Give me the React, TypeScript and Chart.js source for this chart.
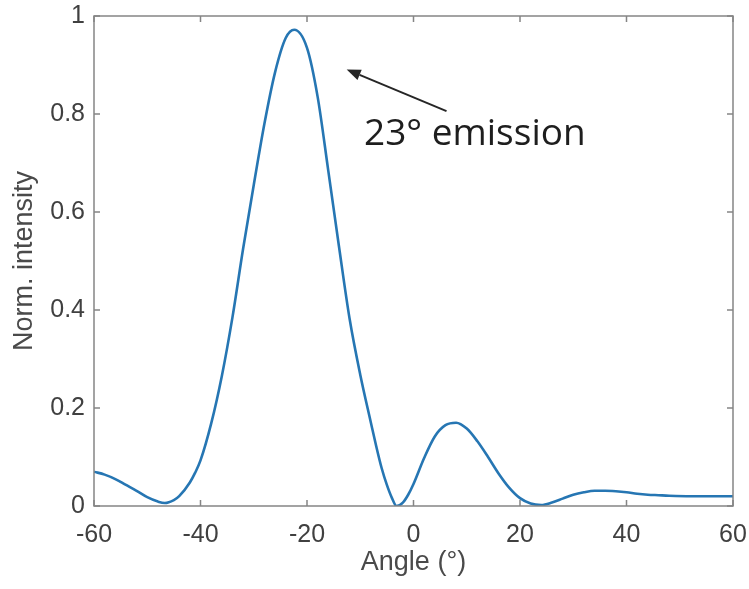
import React, { useEffect, useRef } from "react";
import { Chart, registerables } from "chart.js";

Chart.register(...registerables);

// Normalized far-field intensity versus emission angle
const angles = [
  -60, -58, -56, -54, -52, -50, -48, -46.7, -45, -44, -42, -41, -40, -38, -36, -34, -32, -30, -28,
  -26, -24, -22.4, -20, -18, -16, -14, -12, -10, -8, -7, -6, -5, -4, -3.2, -2, -1, 0, 2, 4, 6, 8,
  10, 12, 14, 16, 18, 20, 22, 24, 26, 28, 30, 32, 34, 36, 38, 40, 42, 44, 46, 48, 52, 56, 60,
];
const intensity = [
  0.07, 0.064, 0.055, 0.043, 0.031, 0.018, 0.009, 0.006, 0.012, 0.02, 0.048, 0.068, 0.093, 0.168,
  0.265, 0.385, 0.525, 0.655, 0.78, 0.885, 0.955, 0.972, 0.935, 0.835, 0.684, 0.53, 0.382, 0.268,
  0.17, 0.122, 0.078, 0.043, 0.015, 0.0, 0.007, 0.023, 0.045, 0.098, 0.142, 0.165, 0.17, 0.158,
  0.132, 0.1, 0.066, 0.037, 0.016, 0.005, 0.002, 0.007, 0.015, 0.023, 0.028, 0.031, 0.031, 0.03,
  0.028, 0.025, 0.023, 0.022, 0.021, 0.02, 0.02, 0.02,
];

const xTicks = [-60, -40, -20, 0, 20, 40, 60];
const yTicks = [0, 0.2, 0.4, 0.6, 0.8, 1];

// Annotation: arrow pointing at the main lobe, with its caption
const arrowHead = { x: -12.55, y: 0.891 };
const arrowTail = { x: 6.2, y: 0.806 };
const captionAt = { x: -9.3, y: 0.737 };
const captionText = "23° emission";

const AXIS_COLOR = "#858585";
const TEXT_COLOR = "#404040";
const LINE_COLOR = "#2676b3";

const boxAndTicks = {
  id: "boxAndTicks",
  afterDatasetsDraw(chart: any) {
    const { ctx, chartArea: a, scales } = chart;
    const xs = scales.x;
    const ys = scales.y;
    const len = 6;
    ctx.save();
    ctx.strokeStyle = AXIS_COLOR;
    ctx.lineWidth = 1.5;
    ctx.strokeRect(a.left, a.top, a.right - a.left, a.bottom - a.top);
    ctx.beginPath();
    for (const v of xTicks) {
      const px = xs.getPixelForValue(v);
      ctx.moveTo(px, a.bottom);
      ctx.lineTo(px, a.bottom - len);
      ctx.moveTo(px, a.top);
      ctx.lineTo(px, a.top + len);
    }
    for (const v of yTicks) {
      const py = ys.getPixelForValue(v);
      ctx.moveTo(a.left, py);
      ctx.lineTo(a.left + len, py);
      ctx.moveTo(a.right, py);
      ctx.lineTo(a.right - len, py);
    }
    ctx.stroke();

    // arrow
    const hx = xs.getPixelForValue(arrowHead.x);
    const hy = ys.getPixelForValue(arrowHead.y);
    const tx = xs.getPixelForValue(arrowTail.x);
    const ty = ys.getPixelForValue(arrowTail.y);
    const ang = Math.atan2(hy - ty, hx - tx);
    const headLen = 14;
    const headHalf = 5.5;
    const bx = hx - headLen * Math.cos(ang);
    const by = hy - headLen * Math.sin(ang);
    ctx.strokeStyle = "#262626";
    ctx.fillStyle = "#262626";
    ctx.lineWidth = 2;
    ctx.beginPath();
    ctx.moveTo(tx, ty);
    ctx.lineTo(bx, by);
    ctx.stroke();
    ctx.beginPath();
    ctx.moveTo(hx, hy);
    ctx.lineTo(bx + headHalf * Math.sin(ang), by - headHalf * Math.cos(ang));
    ctx.lineTo(bx - headHalf * Math.sin(ang), by + headHalf * Math.cos(ang));
    ctx.closePath();
    ctx.fill();

    // caption
    ctx.font = '37px "Open Sans"';
    ctx.fillStyle = "#1e1e1e";
    ctx.textAlign = "left";
    ctx.textBaseline = "alphabetic";
    ctx.fillText(
      captionText,
      xs.getPixelForValue(captionAt.x),
      ys.getPixelForValue(captionAt.y)
    );
    ctx.restore();
  },
};

export default function App() {
  const canvasRef = useRef<HTMLCanvasElement | null>(null);

  useEffect(() => {
    document.body.style.margin = "0";
    const canvas = canvasRef.current;
    if (!canvas) return;
    const tickFont = { family: "'Liberation Sans', Arial, sans-serif", size: 25 };
    const titleFont = { family: "'Liberation Sans', Arial, sans-serif", size: 27 };
    const chart = new Chart(canvas, {
      type: "line",
      data: {
        datasets: [
          {
            data: angles.map((a, i) => ({ x: a, y: intensity[i] })),
            borderColor: LINE_COLOR,
            borderWidth: 2.6,
            pointRadius: 0,
            cubicInterpolationMode: "monotone",
            fill: false,
          },
        ],
      },
      options: {
        animation: false,
        responsive: false,
        devicePixelRatio: 1,
        layout: { padding: { top: 16, right: 16, left: 0, bottom: 0 } },
        plugins: { legend: { display: false }, tooltip: { enabled: false } },
        scales: {
          x: {
            type: "linear",
            min: -60,
            max: 60,
            afterBuildTicks: (s: any) => {
              s.ticks = xTicks.map((v) => ({ value: v }));
            },
            afterFit: (s: any) => {
              s.height = 83;
              s.paddingLeft = 0;
              s.paddingRight = 0;
            },
            grid: { display: false, drawTicks: false },
            border: { display: false },
            ticks: { font: tickFont, color: TEXT_COLOR, padding: 14, maxRotation: 0 },
            title: {
              display: true,
              text: "Angle (°)",
              font: titleFont,
              color: "#4a4a4a",
              padding: { top: 0, bottom: 10 },
            },
          },
          y: {
            type: "linear",
            min: 0,
            max: 1,
            afterBuildTicks: (s: any) => {
              s.ticks = yTicks.map((v) => ({ value: v }));
            },
            afterFit: (s: any) => {
              s.width = 94;
              s.paddingTop = 0;
              s.paddingBottom = 0;
            },
            grid: { display: false, drawTicks: false },
            border: { display: false },
            ticks: {
              font: tickFont,
              color: TEXT_COLOR,
              padding: 9,
              callback: (v: any) => String(Number(v)),
            },
            title: {
              display: true,
              text: "Norm. intensity",
              font: titleFont,
              color: "#4a4a4a",
              padding: { top: 8, bottom: 0 },
            },
          },
        },
      },
      plugins: [boxAndTicks],
    });
    return () => chart.destroy();
  }, []);

  return (
    <div style={{ width: 749, height: 589, background: "#fff" }}>
      <canvas ref={canvasRef} width={749} height={589} style={{ display: "block" }} />
    </div>
  );
}
